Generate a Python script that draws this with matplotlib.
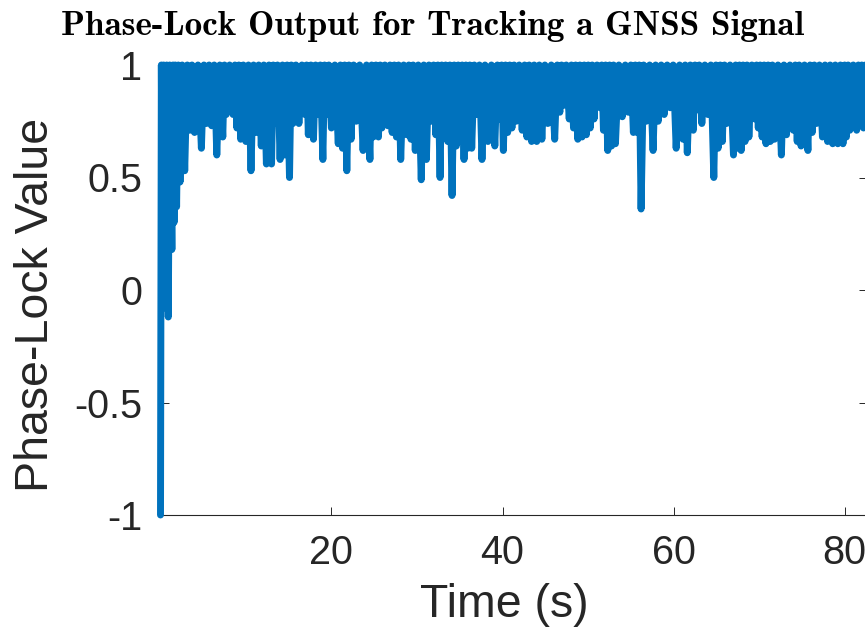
import matplotlib
matplotlib.use("Agg")
import matplotlib.pyplot as plt
from matplotlib.ticker import FixedLocator, FixedFormatter

plt.rcParams['font.family'] = ['Liberation Sans', 'DejaVu Sans']
plt.rcParams['axes.unicode_minus'] = False

# ---- data ----
time_s = [
    0.02, 0.12, 0.25, 0.40, 0.60, 0.75, 0.93, 1.10, 1.35, 1.48, 1.60, 1.75, 1.90, 2.10,
    2.30, 2.55, 2.85, 3.15, 3.45, 3.70, 4.00, 4.40, 4.80, 5.10, 5.40, 5.70, 6.00, 6.30,
    6.60, 6.95, 7.30, 7.50, 7.70, 8.10, 8.50, 8.72, 8.95, 9.18, 9.40, 9.70, 10.00, 10.30,
    10.60, 10.90, 11.20, 11.50, 11.80, 12.10, 12.40, 12.70, 13.00, 13.20, 13.40, 13.70,
    14.00, 14.28, 14.55, 14.82, 15.10, 15.30, 15.50, 15.85, 16.20, 16.55, 16.90, 17.10,
    17.30, 17.60, 17.90, 18.15, 18.40, 18.70, 19.00, 19.20, 19.40, 19.70, 20.00, 20.40,
    20.80, 21.05, 21.30, 21.55, 21.80, 22.05, 22.30, 22.60, 22.90, 23.30, 23.70, 24.10,
    24.50, 24.70, 24.90, 25.20, 25.50, 25.70, 25.90, 26.25, 26.60, 26.85, 27.10, 27.35,
    27.60, 27.85, 28.10, 28.45, 28.80, 29.05, 29.30, 29.55, 29.80, 30.15, 30.50, 30.80,
    31.10, 31.40, 31.70, 31.95, 32.20, 32.45, 32.70, 32.90, 33.10, 33.35, 33.60, 33.85,
    34.10, 34.35, 34.60, 34.82, 35.05, 35.28, 35.50, 35.72, 35.95, 36.18, 36.40, 36.70,
    37.00, 37.30, 37.60, 37.95, 38.30, 38.70, 39.10, 39.40, 39.70, 39.90, 40.10, 40.35,
    40.60, 40.85, 41.10, 41.35, 41.60, 41.95, 42.30, 42.58, 42.85, 43.12, 43.40, 43.70,
    44.00, 44.30, 44.60, 44.95, 45.30, 45.70, 46.10, 46.40, 46.70, 46.90, 47.10, 47.45,
    47.80, 48.05, 48.30, 48.55, 48.80, 49.05, 49.30, 49.55, 49.80, 50.02, 50.25, 50.48,
    50.70, 51.05, 51.40, 51.60, 51.80, 52.05, 52.30, 52.52, 52.75, 52.98, 53.20, 53.60,
    54.00, 54.35, 54.70, 55.00, 55.30, 55.52, 55.75, 55.98, 56.20, 56.50, 56.80, 57.20,
    57.60, 57.90, 58.20, 58.55, 58.90, 59.25, 59.60, 59.95, 60.30, 60.70, 61.10, 61.35,
    61.60, 61.95, 62.30, 62.50, 62.70, 63.00, 63.30, 63.65, 64.00, 64.35, 64.70, 64.95,
    65.20, 65.45, 65.70, 65.95, 66.20, 66.60, 67.00, 67.25, 67.50, 67.70, 67.90, 68.12,
    68.35, 68.58, 68.80, 69.15, 69.50, 69.70, 69.90, 70.12, 70.35, 70.58, 70.80, 71.05,
    71.30, 71.55, 71.80, 72.20, 72.60, 72.90, 73.20, 73.60, 74.00, 74.22, 74.45, 74.68,
    74.90, 75.30, 75.70, 75.95, 76.20, 76.45, 76.70, 77.05, 77.40, 77.70, 78.00, 78.30,
    78.60, 78.90, 79.20, 79.50, 79.80, 80.00, 80.20, 80.40, 80.60, 81.00, 81.40, 81.60,
    81.80, 82.00, 82.20, 82.40, 82.70,
]
lock_value = [
    -1.00, 1.00, -0.02, 1.00, -0.08, 1.00, -0.12, 1.00, 0.18, 1.00, 0.30, 1.00, 0.37, 1.00,
    0.48, 1.00, 0.53, 1.00, 0.71, 1.00, 0.70, 1.00, 0.63, 1.00, 0.74, 1.00, 0.73, 1.00,
    0.60, 1.00, 0.68, 1.00, 0.78, 1.00, 0.78, 1.00, 0.72, 1.00, 0.67, 1.00, 0.66, 1.00,
    0.53, 1.00, 0.70, 1.00, 0.64, 1.00, 0.56, 1.00, 0.56, 1.00, 0.74, 1.00,
    0.58, 1.00, 0.60, 1.00, 0.50, 1.00, 0.74, 1.00, 0.74, 1.00, 0.78, 1.00,
    0.69, 1.00, 0.67, 1.00, 0.78, 1.00, 0.58, 1.00, 0.78, 1.00, 0.72, 1.00,
    0.65, 1.00, 0.63, 1.00, 0.53, 1.00, 0.67, 1.00, 0.75, 1.00, 0.62, 1.00,
    0.58, 1.00, 0.68, 1.00, 0.68, 1.00, 0.72, 1.00, 0.73, 1.00, 0.70, 1.00,
    0.68, 1.00, 0.58, 1.00, 0.69, 1.00, 0.67, 1.00, 0.62, 1.00, 0.49, 1.00,
    0.58, 1.00, 0.75, 1.00, 0.69, 1.00, 0.50, 1.00, 0.69, 1.00, 0.66, 1.00,
    0.42, 1.00, 0.64, 1.00, 0.66, 1.00, 0.58, 1.00, 0.63, 1.00, 0.63, 1.00,
    0.78, 1.00, 0.58, 1.00, 0.66, 1.00, 0.64, 1.00, 0.76, 1.00, 0.62, 1.00,
    0.70, 1.00, 0.72, 1.00, 0.75, 1.00, 0.71, 1.00, 0.68, 1.00, 0.66, 1.00,
    0.66, 1.00, 0.67, 1.00, 0.74, 1.00, 0.67, 1.00, 0.79, 1.00, 0.82, 1.00,
    0.76, 1.00, 0.72, 1.00, 0.67, 1.00, 0.68, 1.00, 0.69, 1.00, 0.72, 1.00,
    0.76, 1.00, 0.81, 1.00, 0.71, 1.00, 0.62, 1.00, 0.64, 1.00, 0.65, 1.00,
    0.77, 1.00, 0.79, 1.00, 0.70, 1.00, 0.70, 1.00, 0.36, 1.00, 0.75, 1.00,
    0.62, 1.00, 0.75, 1.00, 0.78, 1.00, 0.81, 1.00, 0.63, 1.00, 0.67, 1.00,
    0.61, 1.00, 0.71, 1.00, 0.80, 1.00, 0.74, 1.00, 0.78, 1.00, 0.50, 1.00,
    0.63, 1.00, 0.66, 1.00, 0.74, 1.00, 0.60, 1.00, 0.63, 1.00, 0.62, 1.00,
    0.66, 1.00, 0.68, 1.00, 0.76, 1.00, 0.72, 1.00, 0.68, 1.00, 0.65, 1.00,
    0.66, 1.00, 0.67, 1.00, 0.60, 1.00, 0.69, 1.00, 0.71, 1.00, 0.66, 1.00,
    0.64, 1.00, 0.62, 1.00, 0.70, 1.00, 0.74, 1.00, 0.68, 1.00, 0.66, 1.00,
    0.65, 1.00, 0.65, 1.00, 0.65, 1.00, 0.68, 1.00, 0.71, 1.00, 0.71, 1.00,
    0.76, 1.00, 0.72, 1.00, 0.70,
]
x_ticks = [20, 40, 60, 80]
x_tick_labels = ["20", "40", "60", "80"]
y_ticks = [-1, -0.5, 0, 0.5, 1]
y_tick_labels = ["-1", "-0.5", "0", "0.5", "1"]

title_text = "Phase-Lock Output for Tracking a GNSS Signal"
x_label = "Time (s)"
y_label = "Phase-Lock Value"

# ---- figure ----
W, H = 865, 631
fig = plt.figure(figsize=(W / 100, H / 100), dpi=100)
left, right = 160.5 / W, 866.5 / W
bottom, top = 1 - 515 / H, 1 - 65 / H
ax = fig.add_axes([left, bottom, right - left, top - bottom])

line_color = '#0072BD'
ax.plot(time_s, lock_value, color=line_color, lw=5.0,
        solid_joinstyle='round', solid_capstyle='round', clip_on=False, zorder=3)

ax.set_xlim(0.02, 82.55)
ax.set_ylim(-1, 1)

axis_color = (0.15, 0.15, 0.15)
ax.xaxis.set_major_locator(FixedLocator(x_ticks))
ax.xaxis.set_major_formatter(FixedFormatter(x_tick_labels))
ax.yaxis.set_major_locator(FixedLocator(y_ticks))
ax.yaxis.set_major_formatter(FixedFormatter(y_tick_labels))
ax.tick_params(direction='in', length=6, width=0.7, colors=axis_color,
               labelsize=28.5, top=True, right=True)
ax.tick_params(axis='x', pad=14)
ax.tick_params(axis='y', pad=13)
for s in ax.spines.values():
    s.set_color(axis_color)
    s.set_linewidth(0.8)
ax.set_facecolor('white')

fig.text(0.5, 1 - 26 / H, title_text, family='cmb10', fontsize=25.3,
         ha='center', va='center', color='black')
fig.text(504 / W, 1 - 605 / H, x_label, fontsize=33.5, ha='center', va='center',
         color=axis_color)
fig.text(36 / W, 1 - 305 / H, y_label, fontsize=33.5, ha='center', va='center',
         rotation=90, color=axis_color)

fig.savefig("out.png", dpi=100, facecolor='white')
